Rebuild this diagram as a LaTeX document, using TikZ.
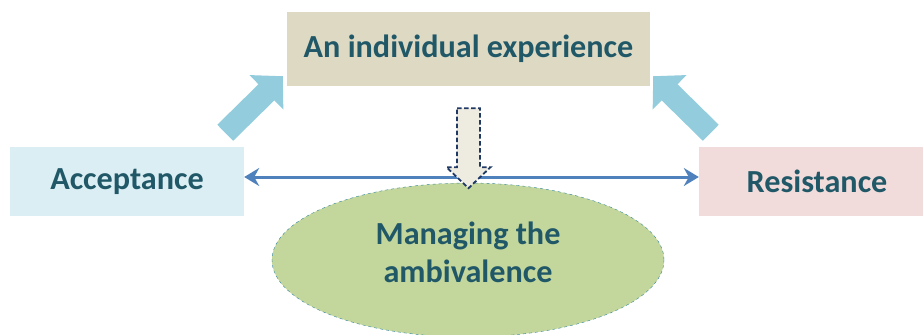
\documentclass[tikz,border=0pt]{standalone}
\usepackage{fontspec}
\setmainfont{Carlito}
\usetikzlibrary{arrows.meta}
\usetikzlibrary{shapes.geometric}
\usetikzlibrary{calc}
\definecolor{txtteal}{HTML}{215868}
\definecolor{boxtan}{HTML}{DDD9C3}
\definecolor{boxblue}{HTML}{DAEEF3}
\definecolor{boxpink}{HTML}{F2DCDB}
\definecolor{ovalgreen}{HTML}{C3D69B}
\definecolor{ovalline}{HTML}{31849B}
\definecolor{fatblue}{HTML}{93CDDD}
\definecolor{linkblue}{HTML}{4F81BD}
\definecolor{downfill}{HTML}{EEECE1}
\definecolor{downline}{HTML}{1F3864}
\begin{document}
\begin{tikzpicture} [
        x=1bp, y=-1bp,
        txt/.style={text=txtteal, font=\fontsize{32.3}{38}\selectfont\bfseries, align=center},
        box/.style={txt, rectangle, inner sep=0pt},
        oval/.style={ellipse, draw=ovalline, dashed, thin, fill=ovalgreen, inner sep=0pt,
                     minimum width=392bp, minimum height=154bp},
        fatarrow/.style={draw=fatblue, line width=22.6bp, -{Triangle[length=23bp,width=47bp]}},
        biarrow/.style={draw=linkblue, line width=3bp,
                        {Stealth[length=15bp,width=18bp,inset=5bp]}-{Stealth[length=15bp,width=18bp,inset=5bp]}},
        downarrow/.style={draw=downline, fill=downfill, line width=1.8bp, dash pattern=on 4.5bp off 2.5bp} ]
    \useasboundingbox (0,0) rectangle (923,334);
    \node[box, fill=boxtan, minimum width=363bp, minimum height=74bp] (exp) at (468.5,49) {An individual experience};
    \node[box, fill=boxblue, minimum width=234bp, minimum height=69bp] (acc) at (127,181.5) {Acceptance};
    \node[box, fill=boxpink, minimum width=236bp, minimum height=69bp] (res) at (817,181.5) {Resistance};
    \node[oval, label={[txt, yshift=8bp]center:Managing the\\ambivalence}] (amb) at (468,260) {};
    \draw[fatarrow] ([shift={(-19,-14)}]acc.north east) -- ([shift={(-4,-10)}]exp.south west);
    \draw[fatarrow] ([shift={(12,-14)}]res.north west) -- ([shift={(3,-10)}]exp.south east);
    \draw[biarrow] ([yshift=4.5bp]acc.east) -- ([yshift=4.5bp]res.west);
    \coordinate (dtop) at ([yshift=-22bp]exp.south);
    \draw[downarrow] ($(dtop)+(-11.5,0)$) -- ($(dtop)+(11.5,0)$) -- ($(dtop)+(11.5,59)$)
        -- ($(dtop)+(22,59)$) -- ($(dtop)+(0,80)$) -- ($(dtop)+(-22,59)$)
        -- ($(dtop)+(-11.5,59)$) -- cycle;
\end{tikzpicture}
\end{document}
